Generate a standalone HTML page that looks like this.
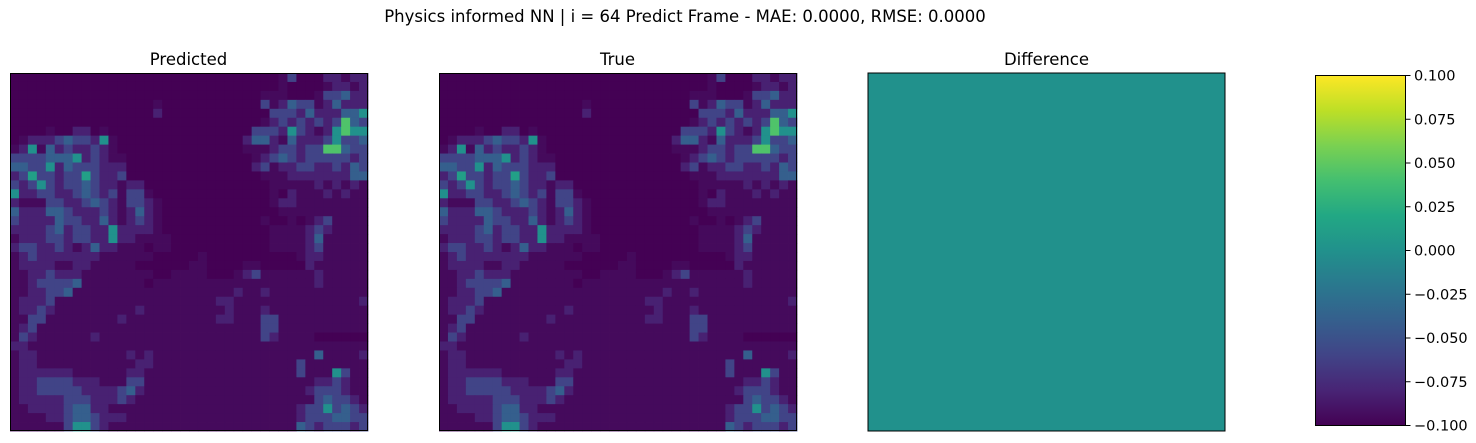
<!DOCTYPE html>
<html><head><meta charset="utf-8"><style>
body{margin:0;background:#fff;width:1476px;height:443px;overflow:hidden;font-family:"Liberation Sans","DejaVu Sans",sans-serif}
svg{position:absolute;left:0;top:0}
text{font-family:"DejaVu Sans","Liberation Sans",sans-serif;fill:#000}
</style></head><body>
<svg id="fig" width="1476" height="443">
<defs><linearGradient id="vir" x1="0" y1="1" x2="0" y2="0">
<stop offset="0" stop-color="#440154"/><stop offset="0.1" stop-color="#482475"/><stop offset="0.2" stop-color="#414487"/><stop offset="0.3" stop-color="#355f8d"/><stop offset="0.4" stop-color="#2a788e"/><stop offset="0.5" stop-color="#21918c"/><stop offset="0.6" stop-color="#22a884"/><stop offset="0.7" stop-color="#44bf70"/><stop offset="0.8" stop-color="#7ad151"/><stop offset="0.9" stop-color="#bddf26"/><stop offset="1" stop-color="#fde725"/>
</linearGradient></defs>
<text x="685" y="22" font-size="16.5" text-anchor="middle">Physics informed NN | i = 64 Predict Frame - MAE: 0.0000, RMSE: 0.0000</text>
<text x="188.5" y="65" font-size="16.5" text-anchor="middle">Predicted</text>
<text x="617.5" y="65" font-size="16.5" text-anchor="middle">True</text>
<text x="1046.5" y="65" font-size="16.5" text-anchor="middle">Difference</text>
<g id="pred"></g>
<g id="truth"></g>
<rect x="868" y="73" width="357" height="358" fill="#21918c" stroke="#000" stroke-width="1"/>
<rect x="1315.5" y="75.5" width="90" height="350" fill="url(#vir)" stroke="#000" stroke-width="1"/>
<g id="cbticks"></g>
</svg>
<script>
const z=n=>"0".repeat(n), o=n=>"1".repeat(n);
const gridRows=[
z(30)+"13"+"000"+"22122",
z(30)+"1"+"0000"+"12212",
z(28)+"111"+"000"+"1"+"33422",
z(16)+"1"+z(11)+"312433124222",
z(16)+"2"+z(12)+"33324222445",
z(28)+"123232323743",
"0000"+"1"+"00"+"22"+"0"+"1"+z(16)+"3332532125755",
"012223433251"+z(14)+"24421422235334",
"125142322321"+z(14)+"11123323377433",
"3333444523211"+z(14)+"1234323333323",
"4433524333222"+z(14)+"2312233223243",
"2363323363223"+z(15)+"111222222244",
"323532334322122"+z(14)+"11111212121",
"5223322343231331"+z(13)+"10211121211",
"21113322343213321"+z(12)+"12211111111",
"42224432223212421"+z(13)+"1111111111",
"32222433224212321"+z(11)+"100101231111",
"22223423322522221"+z(12)+"11112321111",
"122233233225221111"+z(11)+"11112411111",
"233223212422111011"+z(11)+"11112311111",
"1232222222111111"+"00000"+"1"+z(10)+"12211111",
"12222112211111"+z(6)+"11"+"0000"+"11"+"00000"+"2111111",
"11223222"+o(8)+"00"+"1111"+"000"+"123"+"11111"+"1211111",
"11233334"+o(7)+"0"+o(18)+"2"+o(5),
"1122334"+o(18)+"2"+"11"+"2"+o(11),
"12223"+o(18)+"22"+o(14)+"2",
"12232"+o(9)+"2"+o(9)+"2"+o(3)+"2"+o(11),
"1133"+o(8)+"2"+o(10)+"22"+o(3)+"33"+o(10),
"1231"+o(24)+"33"+o(10),
"1321"+o(5)+"2"+o(18)+"32"+o(4)+z(6),
"22"+o(38),
"122"+o(10)+"212"+o(18)+"411112",
"122"+o(10)+"122"+o(16)+"31"+o(6),
"1222222"+o(6)+"22"+o(17)+"31"+"11"+"53"+"11",
"1223333222"+"111"+"33"+o(18)+"12232"+"11",
"122333332222342"+o(18)+"23332"+"11",
"12222233322232"+o(19)+"1343321",
"112222344221"+o(20)+"23353432",
"1111223443222"+o(19)+"23334433",
"11111135532"+o(20)+"143233323"
];
const levelValues=[0,0.025,0.09,0.2,0.3,0.5,0.56,0.72,0.85,1];
const cbTicks=["0.100","0.075","0.050","0.025","0.000","\u22120.025","\u22120.050","\u22120.075","\u22120.100"];
const stops=["#440154","#482475","#414487","#355f8d","#2a788e","#21918c","#22a884","#44bf70","#7ad151","#bddf26","#fde725"];
function hx(c){return [1,3,5].map(i=>parseInt(c.substr(i,2),16));}
function viridis(t){t=Math.max(0,Math.min(1,t));const p=t*10,i=Math.min(9,Math.floor(p)),f=p-i;const a=hx(stops[i]),b=hx(stops[i+1]);return "rgb("+a.map((v,k)=>Math.round(v+(b[k]-v)*f)).join(",")+")";}
const NS="http://www.w3.org/2000/svg";
function drawHeat(gid,x0,y0,w,h,label){
  const g=document.getElementById(gid);const n=40,cw=w/n,ch=h/n;
  gridRows.forEach((row,r)=>{const s=row.padEnd(n,"1");
    for(let c=0;c<n;c++){const rc=document.createElementNS(NS,"rect");
      rc.setAttribute("x",(x0+c*cw).toFixed(2));rc.setAttribute("y",(y0+r*ch).toFixed(2));
      rc.setAttribute("width",(cw+0.4).toFixed(2));rc.setAttribute("height",(ch+0.4).toFixed(2));
      rc.setAttribute("fill",viridis(levelValues[+s[c]]));
      
      
      g.appendChild(rc);}});
  const b=document.createElementNS(NS,"rect");
  b.setAttribute("x",x0+0.5);b.setAttribute("y",y0+0.5);b.setAttribute("width",w-1);b.setAttribute("height",h-1);
  b.setAttribute("fill","none");b.setAttribute("stroke","#000");
  
  
  g.appendChild(b);
}
drawHeat("pred",10,73,358,358,"predicted");
drawHeat("truth",439,73,358,358,"true");
const tg=document.getElementById("cbticks");
cbTicks.forEach((t,i)=>{const y=75.5+i*350/8;
  const l=document.createElementNS(NS,"line");l.setAttribute("x1",1405.5);l.setAttribute("x2",1410.5);l.setAttribute("y1",y);l.setAttribute("y2",y);l.setAttribute("stroke","#000");
  
  
  tg.appendChild(l);
  const tx=document.createElementNS(NS,"text");tx.setAttribute("x",1414);tx.setAttribute("y",y+5);tx.setAttribute("font-size","14.5");tx.textContent=t;
  
  
  tg.appendChild(tx);});
</script>
</body></html>
